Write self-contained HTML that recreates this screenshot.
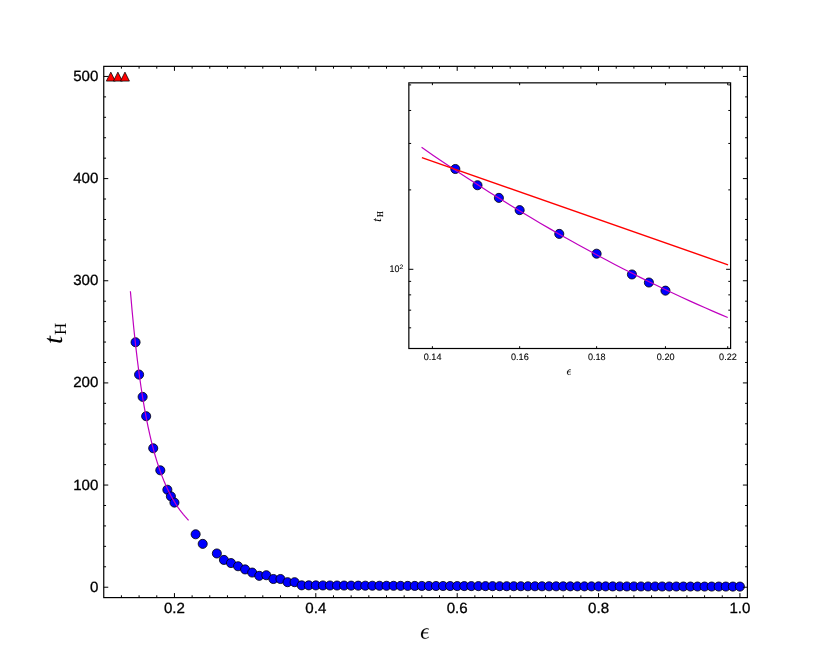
<!DOCTYPE html>
<html><head><meta charset="utf-8"><title>t_H vs epsilon</title>
<style>html,body{margin:0;padding:0;background:#fff}body{width:830px;height:664px;overflow:hidden;font-family:"Liberation Sans",sans-serif}svg{display:block;will-change:transform}text{text-rendering:geometricPrecision}</style></head>
<body>
<svg width="830" height="664" viewBox="0 0 830 664">
<rect width="830" height="664" fill="#fff"/>
<g id="main">
<path d="M110.82 72.14 L106.34 81.09 L115.29 81.09 Z" fill="#f00" stroke="#000" stroke-width="0.75" stroke-linejoin="miter"/>
<path d="M117.89 72.14 L113.41 81.09 L122.36 81.09 Z" fill="#f00" stroke="#000" stroke-width="0.75" stroke-linejoin="miter"/>
<path d="M124.96 72.14 L120.48 81.09 L129.43 81.09 Z" fill="#f00" stroke="#000" stroke-width="0.75" stroke-linejoin="miter"/>
<g fill="#00f" stroke="#000" stroke-width="0.8">
<circle cx="135.56" cy="342.22" r="4.55"/>
<circle cx="139.09" cy="374.6" r="4.55"/>
<circle cx="142.63" cy="396.87" r="4.55"/>
<circle cx="146.16" cy="416.18" r="4.55"/>
<circle cx="153.23" cy="448.25" r="4.55"/>
<circle cx="160.3" cy="470.32" r="4.55"/>
<circle cx="167.37" cy="489.73" r="4.55"/>
<circle cx="170.9" cy="496.37" r="4.55"/>
<circle cx="174.44" cy="502.6" r="4.55"/>
<circle cx="195.64" cy="534.27" r="4.55"/>
<circle cx="202.71" cy="543.87" r="4.55"/>
<circle cx="216.85" cy="553.47" r="4.55"/>
<circle cx="223.92" cy="559.91" r="4.55"/>
<circle cx="230.99" cy="563.07" r="4.55"/>
<circle cx="238.06" cy="566.24" r="4.55"/>
<circle cx="245.12" cy="569.41" r="4.55"/>
<circle cx="252.19" cy="572.57" r="4.55"/>
<circle cx="259.26" cy="575.84" r="4.55"/>
<circle cx="266.33" cy="575.23" r="4.55"/>
<circle cx="273.4" cy="579.01" r="4.55"/>
<circle cx="280.47" cy="579.01" r="4.55"/>
<circle cx="287.54" cy="582.18" r="4.55"/>
<circle cx="294.6" cy="582.18" r="4.55"/>
<circle cx="301.67" cy="585.34" r="4.55"/>
<circle cx="308.74" cy="585.34" r="4.55"/>
<circle cx="315.81" cy="585.39" r="4.55"/>
<circle cx="322.88" cy="585.44" r="4.55"/>
<circle cx="329.95" cy="585.49" r="4.55"/>
<circle cx="337.02" cy="585.53" r="4.55"/>
<circle cx="344.09" cy="585.57" r="4.55"/>
<circle cx="351.15" cy="585.61" r="4.55"/>
<circle cx="358.22" cy="585.65" r="4.55"/>
<circle cx="365.29" cy="585.69" r="4.55"/>
<circle cx="372.36" cy="585.73" r="4.55"/>
<circle cx="379.43" cy="585.76" r="4.55"/>
<circle cx="386.5" cy="585.79" r="4.55"/>
<circle cx="393.57" cy="585.82" r="4.55"/>
<circle cx="400.64" cy="585.85" r="4.55"/>
<circle cx="407.7" cy="585.88" r="4.55"/>
<circle cx="414.77" cy="585.91" r="4.55"/>
<circle cx="421.84" cy="585.94" r="4.55"/>
<circle cx="428.91" cy="585.96" r="4.55"/>
<circle cx="435.98" cy="585.99" r="4.55"/>
<circle cx="443.05" cy="586.01" r="4.55"/>
<circle cx="450.12" cy="586.03" r="4.55"/>
<circle cx="457.19" cy="586.06" r="4.55"/>
<circle cx="464.25" cy="586.08" r="4.55"/>
<circle cx="471.32" cy="586.1" r="4.55"/>
<circle cx="478.39" cy="586.12" r="4.55"/>
<circle cx="485.46" cy="586.14" r="4.55"/>
<circle cx="492.53" cy="586.16" r="4.55"/>
<circle cx="499.6" cy="586.18" r="4.55"/>
<circle cx="506.67" cy="586.2" r="4.55"/>
<circle cx="513.73" cy="586.21" r="4.55"/>
<circle cx="520.8" cy="586.23" r="4.55"/>
<circle cx="527.87" cy="586.25" r="4.55"/>
<circle cx="534.94" cy="586.26" r="4.55"/>
<circle cx="542.01" cy="586.28" r="4.55"/>
<circle cx="549.08" cy="586.29" r="4.55"/>
<circle cx="556.15" cy="586.31" r="4.55"/>
<circle cx="563.22" cy="586.32" r="4.55"/>
<circle cx="570.28" cy="586.34" r="4.55"/>
<circle cx="577.35" cy="586.35" r="4.55"/>
<circle cx="584.42" cy="586.36" r="4.55"/>
<circle cx="591.49" cy="586.38" r="4.55"/>
<circle cx="598.56" cy="586.39" r="4.55"/>
<circle cx="605.63" cy="586.4" r="4.55"/>
<circle cx="612.7" cy="586.41" r="4.55"/>
<circle cx="619.77" cy="586.43" r="4.55"/>
<circle cx="626.83" cy="586.44" r="4.55"/>
<circle cx="633.9" cy="586.45" r="4.55"/>
<circle cx="640.97" cy="586.46" r="4.55"/>
<circle cx="648.04" cy="586.47" r="4.55"/>
<circle cx="655.11" cy="586.48" r="4.55"/>
<circle cx="662.18" cy="586.49" r="4.55"/>
<circle cx="669.25" cy="586.5" r="4.55"/>
<circle cx="676.31" cy="586.51" r="4.55"/>
<circle cx="683.38" cy="586.52" r="4.55"/>
<circle cx="690.45" cy="586.53" r="4.55"/>
<circle cx="697.52" cy="586.54" r="4.55"/>
<circle cx="704.59" cy="586.55" r="4.55"/>
<circle cx="711.66" cy="586.56" r="4.55"/>
<circle cx="718.73" cy="586.56" r="4.55"/>
<circle cx="725.8" cy="586.57" r="4.55"/>
<circle cx="732.86" cy="586.58" r="4.55"/>
<circle cx="739.93" cy="586.59" r="4.55"/>
</g>
<path d="M130.4 291.19 L132.16 311.29 L133.92 329.44 L135.69 345.86 L137.45 360.77 L139.21 374.34 L140.98 386.71 L142.74 398.01 L144.5 408.35 L146.27 417.84 L148.03 426.57 L149.79 434.61 L151.55 442.02 L153.32 448.88 L155.08 455.22 L156.84 461.1 L158.61 466.56 L160.37 471.64 L162.13 476.37 L163.89 480.79 L165.66 484.91 L167.42 488.76 L169.18 492.36 L170.95 495.74 L172.71 498.91 L174.47 501.89 L176.23 504.7 L178 507.33 L179.76 509.82 L181.52 512.16 L183.29 514.37 L185.05 516.47 L186.81 518.44 L188.57 520.32" fill="none" stroke="#bf00bf" stroke-width="1.2"/>
<path d="M174.44 597.6 v-4.5 M174.44 66.35 v4.5 M315.81 597.6 v-4.5 M315.81 66.35 v4.5 M457.19 597.6 v-4.5 M457.19 66.35 v4.5 M598.56 597.6 v-4.5 M598.56 66.35 v4.5 M739.93 597.6 v-4.5 M739.93 66.35 v4.5 M121.42 597.6 v-2.3 M121.42 66.35 v2.3 M139.09 597.6 v-2.3 M139.09 66.35 v2.3 M156.77 597.6 v-2.3 M156.77 66.35 v2.3 M192.11 597.6 v-2.3 M192.11 66.35 v2.3 M209.78 597.6 v-2.3 M209.78 66.35 v2.3 M227.45 597.6 v-2.3 M227.45 66.35 v2.3 M245.12 597.6 v-2.3 M245.12 66.35 v2.3 M262.8 597.6 v-2.3 M262.8 66.35 v2.3 M280.47 597.6 v-2.3 M280.47 66.35 v2.3 M298.14 597.6 v-2.3 M298.14 66.35 v2.3 M333.48 597.6 v-2.3 M333.48 66.35 v2.3 M351.15 597.6 v-2.3 M351.15 66.35 v2.3 M368.83 597.6 v-2.3 M368.83 66.35 v2.3 M386.5 597.6 v-2.3 M386.5 66.35 v2.3 M404.17 597.6 v-2.3 M404.17 66.35 v2.3 M421.84 597.6 v-2.3 M421.84 66.35 v2.3 M439.51 597.6 v-2.3 M439.51 66.35 v2.3 M474.86 597.6 v-2.3 M474.86 66.35 v2.3 M492.53 597.6 v-2.3 M492.53 66.35 v2.3 M510.2 597.6 v-2.3 M510.2 66.35 v2.3 M527.87 597.6 v-2.3 M527.87 66.35 v2.3 M545.54 597.6 v-2.3 M545.54 66.35 v2.3 M563.22 597.6 v-2.3 M563.22 66.35 v2.3 M580.89 597.6 v-2.3 M580.89 66.35 v2.3 M616.23 597.6 v-2.3 M616.23 66.35 v2.3 M633.9 597.6 v-2.3 M633.9 66.35 v2.3 M651.57 597.6 v-2.3 M651.57 66.35 v2.3 M669.25 597.6 v-2.3 M669.25 66.35 v2.3 M686.92 597.6 v-2.3 M686.92 66.35 v2.3 M704.59 597.6 v-2.3 M704.59 66.35 v2.3 M722.26 597.6 v-2.3 M722.26 66.35 v2.3 M103.75 587.22 h4.5 M747.4 587.22 h-4.5 M103.75 566.78 h2.3 M747.4 566.78 h-2.3 M103.75 546.35 h2.3 M747.4 546.35 h-2.3 M103.75 525.92 h2.3 M747.4 525.92 h-2.3 M103.75 505.49 h2.3 M747.4 505.49 h-2.3 M103.75 485.06 h4.5 M747.4 485.06 h-4.5 M103.75 464.63 h2.3 M747.4 464.63 h-2.3 M103.75 444.2 h2.3 M747.4 444.2 h-2.3 M103.75 423.77 h2.3 M747.4 423.77 h-2.3 M103.75 403.34 h2.3 M747.4 403.34 h-2.3 M103.75 382.91 h4.5 M747.4 382.91 h-4.5 M103.75 362.48 h2.3 M747.4 362.48 h-2.3 M103.75 342.05 h2.3 M747.4 342.05 h-2.3 M103.75 321.61 h2.3 M747.4 321.61 h-2.3 M103.75 301.18 h2.3 M747.4 301.18 h-2.3 M103.75 280.75 h4.5 M747.4 280.75 h-4.5 M103.75 260.32 h2.3 M747.4 260.32 h-2.3 M103.75 239.89 h2.3 M747.4 239.89 h-2.3 M103.75 219.46 h2.3 M747.4 219.46 h-2.3 M103.75 199.03 h2.3 M747.4 199.03 h-2.3 M103.75 178.6 h4.5 M747.4 178.6 h-4.5 M103.75 158.17 h2.3 M747.4 158.17 h-2.3 M103.75 137.74 h2.3 M747.4 137.74 h-2.3 M103.75 117.31 h2.3 M747.4 117.31 h-2.3 M103.75 96.88 h2.3 M747.4 96.88 h-2.3 M103.75 76.45 h4.5 M747.4 76.45 h-4.5" fill="none" stroke="#000" stroke-width="1"/>
<rect x="103.75" y="66.35" width="643.65" height="531.25" fill="none" stroke="#000" stroke-width="1.2"/>
</g>
<g font-family="'Liberation Sans', sans-serif" fill="#000" stroke="#000" stroke-width="0.3">
<text transform="translate(174.44 612.65) scale(1.02 1)" text-anchor="middle" font-size="14.8" >0.2</text>
<text transform="translate(315.81 612.65) scale(1.02 1)" text-anchor="middle" font-size="14.8" >0.4</text>
<text transform="translate(457.19 612.65) scale(1.02 1)" text-anchor="middle" font-size="14.8" >0.6</text>
<text transform="translate(598.56 612.65) scale(1.02 1)" text-anchor="middle" font-size="14.8" >0.8</text>
<text transform="translate(739.93 612.65) scale(1.02 1)" text-anchor="middle" font-size="14.8" >1.0</text>
<text transform="translate(98.35 591.69) scale(1.02 1)" text-anchor="end" font-size="14.8" >0</text>
<text transform="translate(98.35 489.53) scale(1.02 1)" text-anchor="end" font-size="14.8" >100</text>
<text transform="translate(98.35 387.38) scale(1.02 1)" text-anchor="end" font-size="14.8" >200</text>
<text transform="translate(98.35 285.22) scale(1.02 1)" text-anchor="end" font-size="14.8" >300</text>
<text transform="translate(98.35 183.07) scale(1.02 1)" text-anchor="end" font-size="14.8" >400</text>
<text transform="translate(98.35 80.92) scale(1.02 1)" text-anchor="end" font-size="14.8" >500</text>
</g>
<g id="inset">
<rect x="408.85" y="82.85" width="321.75" height="265.65" fill="#fff"/>
<g fill="#00f" stroke="#000" stroke-width="0.8">
<circle cx="455.33" cy="169" r="4.55"/>
<circle cx="477.48" cy="185.23" r="4.55"/>
<circle cx="498.9" cy="197.89" r="4.55"/>
<circle cx="519.65" cy="210.14" r="4.55"/>
<circle cx="559.26" cy="233.9" r="4.55"/>
<circle cx="596.61" cy="253.69" r="4.55"/>
<circle cx="631.94" cy="274.46" r="4.55"/>
<circle cx="648.91" cy="282.52" r="4.55"/>
<circle cx="665.45" cy="290.65" r="4.55"/>
</g>
<path d="M421.58 147.34 L433.3 155.39 L444.83 163.18 L456.15 170.72 L467.28 178.02 L478.22 185.09 L488.98 191.94 L499.57 198.58 L509.99 205.02 L520.24 211.26 L530.34 217.31 L540.28 223.19 L550.08 228.89 L559.73 234.42 L569.24 239.79 L578.61 245.01 L587.85 250.07 L596.96 254.99 L605.95 259.77 L614.81 264.42 L623.56 268.93 L632.19 273.32 L640.7 277.59 L649.11 281.74 L657.41 285.78 L665.61 289.7 L673.7 293.52 L681.7 297.23 L689.6 300.84 L697.4 304.36 L705.12 307.78 L712.74 311.11 L720.28 314.35 L727.73 317.5" fill="none" stroke="#bf00bf" stroke-width="1.2"/>
<path d="M421.9 157.6 L728.05 264.8" fill="none" stroke="#f00" stroke-width="1.4"/>
<path d="M432.4 348.5 v-2.3 M432.4 82.85 v2.3 M519.65 348.5 v-2.3 M519.65 82.85 v2.3 M596.61 348.5 v-2.3 M596.61 82.85 v2.3 M665.45 348.5 v-2.3 M665.45 82.85 v2.3 M727.73 348.5 v-2.3 M727.73 82.85 v2.3 M408.85 327.82 h2.3 M730.6 327.82 h-2.3 M408.85 310.16 h2.3 M730.6 310.16 h-2.3 M408.85 294.86 h2.3 M730.6 294.86 h-2.3 M408.85 281.37 h2.3 M730.6 281.37 h-2.3 M408.85 269.3 h4.5 M730.6 269.3 h-4.5 M408.85 189.89 h2.3 M730.6 189.89 h-2.3 M408.85 143.44 h2.3 M730.6 143.44 h-2.3 M408.85 110.48 h2.3 M730.6 110.48 h-2.3 M408.85 84.91 h2.3 M730.6 84.91 h-2.3" fill="none" stroke="#000" stroke-width="1"/>
<rect x="408.85" y="82.85" width="321.75" height="265.65" fill="none" stroke="#000" stroke-width="1.2"/>
</g>
<g font-family="'Liberation Sans', sans-serif" fill="#000" stroke="#000" stroke-width="0.1">
<text transform="translate(432.6 359.8) scale(0.99 1)" text-anchor="middle" font-size="9.2" >0.14</text>
<text transform="translate(519.85 359.8) scale(0.99 1)" text-anchor="middle" font-size="9.2" >0.16</text>
<text transform="translate(596.81 359.8) scale(0.99 1)" text-anchor="middle" font-size="9.2" >0.18</text>
<text transform="translate(665.65 359.8) scale(0.99 1)" text-anchor="middle" font-size="9.2" >0.20</text>
<text transform="translate(727.93 359.8) scale(0.99 1)" text-anchor="middle" font-size="9.2" >0.22</text>
<text transform="translate(399.45 271.8) scale(0.93 1)" text-anchor="end" font-size="9.6" >10</text>
<text transform="translate(403.2 268.6) scale(1.08 1)" text-anchor="end" font-size="6.3" >2</text>
</g>
<g font-family="'Liberation Serif', serif" fill="#000">
<g transform="translate(61.9 343.5) rotate(-90)"><text font-size="27" font-style="italic" transform="translate(-0.6 0) scale(1.06 1)">t</text><text font-size="17" transform="translate(8.4 4.2) scale(1.0 1)">H</text></g>
<g transform="translate(381.1 221.6) rotate(-90)"><text font-size="13" font-style="italic" transform="translate(-0.3 0) scale(1.06 1)">t</text><text font-size="9" stroke="#000" stroke-width="0.2" transform="translate(4.5 1.6) scale(0.88 1)">H</text></g>
</g>
<g transform="translate(425 633.5) scale(1.0)" fill="#000" stroke="#000" stroke-width="0.15" stroke-linejoin="round"><path d="M4.0 -4.6 C2.8 -5.4 0.8 -5.5 -1.0 -4.4 C-3.0 -3.2 -4.1 -1.0 -4.0 1.2 C-3.9 3.6 -2.4 5.3 0.0 5.25 C1.6 5.2 3.0 4.6 4.0 3.6 L3.7 3.2 C2.8 4.0 1.6 4.5 0.3 4.5 C-1.4 4.5 -2.2 3.2 -2.2 1.2 C-2.2 -0.8 -1.4 -3.0 0.0 -4.0 C1.2 -4.8 2.6 -4.8 3.8 -4.1 Z"/><path d="M-2.6 -1.0 H3.1 V-0.2 H-2.6 Z"/></g>
<g transform="translate(569 372.2) scale(0.5)" fill="#000" stroke="#000" stroke-width="0.3" stroke-linejoin="round"><path d="M4.0 -4.6 C2.8 -5.4 0.8 -5.5 -1.0 -4.4 C-3.0 -3.2 -4.1 -1.0 -4.0 1.2 C-3.9 3.6 -2.4 5.3 0.0 5.25 C1.6 5.2 3.0 4.6 4.0 3.6 L3.7 3.2 C2.8 4.0 1.6 4.5 0.3 4.5 C-1.4 4.5 -2.2 3.2 -2.2 1.2 C-2.2 -0.8 -1.4 -3.0 0.0 -4.0 C1.2 -4.8 2.6 -4.8 3.8 -4.1 Z"/><path d="M-2.6 -1.0 H3.1 V-0.2 H-2.6 Z"/></g>
</svg>
</body></html>
